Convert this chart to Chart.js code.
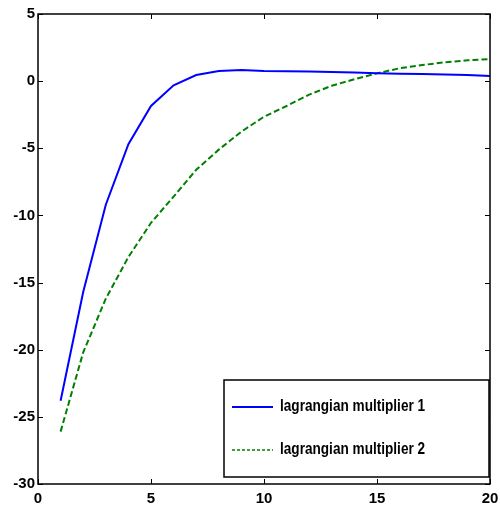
<!DOCTYPE html>
<html>
<head>
<meta charset="utf-8">
<script src="https://cdn.jsdelivr.net/npm/chart.js@4/dist/chart.umd.min.js"></script>
<style>
  html, body { margin: 0; padding: 0; background: #fff; }
  #wrap { width: 500px; height: 513px; }
</style>
</head>
<body>
<div id="wrap"><canvas id="c" width="500" height="513"></canvas></div>
<script>
// ---- data ----
const iterations = [1,2,3,4,5,6,7,8,9,10,11,12,13,14,15,16,17,18,19,20];
const multiplier1 = [-23.8,-15.7,-9.2,-4.7,-1.85,-0.31,0.46,0.76,0.83,0.76,0.74,0.71,0.68,0.64,0.58,0.55,0.53,0.49,0.46,0.38];
const multiplier2 = [-26.1,-20.2,-16.2,-13.1,-10.55,-8.6,-6.6,-5.1,-3.76,-2.65,-1.85,-1.0,-0.34,0.14,0.58,0.96,1.2,1.4,1.55,1.65];
const seriesLabels = ["lagrangian multiplier 1", "lagrangian multiplier 2"];
const xTicks = [0,5,10,15,20];
const yTicks = [-30,-25,-20,-15,-10,-5,0,5];

const FONT_FAMILY = '"Liberation Sans", Arial, sans-serif';

function toXY(xs, ys) { return xs.map((x, i) => ({ x: x, y: ys[i] })); }

const frameAndLegend = {
  id: 'frameAndLegend',
  afterDraw(chart) {
    const ctx = chart.ctx;
    const a = chart.chartArea;
    const xs = chart.scales.x, ys = chart.scales.y;
    ctx.save();
    // inward ticks on all four sides
    ctx.strokeStyle = '#000';
    ctx.lineWidth = 1;
    const tl = 5;
    xTicks.forEach(v => {
      const px = Math.round(xs.getPixelForValue(v)) + 0.5;
      ctx.beginPath();
      ctx.moveTo(px, a.bottom); ctx.lineTo(px, a.bottom - tl);
      ctx.moveTo(px, a.top); ctx.lineTo(px, a.top + tl);
      ctx.stroke();
    });
    yTicks.forEach(v => {
      const py = Math.round(ys.getPixelForValue(v)) + 0.5;
      ctx.beginPath();
      ctx.moveTo(a.left, py); ctx.lineTo(a.left + tl, py);
      ctx.moveTo(a.right, py); ctx.lineTo(a.right - tl, py);
      ctx.stroke();
    });
    // frame
    ctx.lineWidth = 1.5;
    ctx.strokeRect(a.left, a.top, a.right - a.left, a.bottom - a.top);

    // legend box
    const bw = 265, bh = 97;
    const bx = a.right - bw - 1, by = a.bottom - bh - 7;
    ctx.fillStyle = '#fff';
    ctx.fillRect(bx, by, bw, bh);
    ctx.lineWidth = 1.5;
    ctx.strokeStyle = '#000';
    ctx.strokeRect(bx, by, bw, bh);
    const rows = [by + 27, by + 70];
    chart.data.datasets.forEach((ds, i) => {
      const y = rows[i];
      ctx.beginPath();
      ctx.strokeStyle = ds.borderColor;
      ctx.lineWidth = ds.borderDash ? 1.5 : 2;
      ctx.setLineDash(ds.borderDash ? [3, 2] : []);
      ctx.moveTo(bx + 8, y); ctx.lineTo(bx + 49, y);
      ctx.stroke();
      ctx.setLineDash([]);
      ctx.save();
      ctx.translate(bx + 56, y);
      ctx.scale(0.85, 1);
      ctx.fillStyle = '#000';
      ctx.font = 'bold 16px ' + FONT_FAMILY;
      ctx.textBaseline = 'middle';
      ctx.textAlign = 'left';
      ctx.fillText(ds.label, 0, 0);
      ctx.restore();
    });
    ctx.restore();
  }
};

new Chart(document.getElementById('c'), {
  type: 'line',
  data: {
    datasets: [
      {
        label: seriesLabels[0],
        data: toXY(iterations, multiplier1),
        borderColor: '#0000ff',
        borderWidth: 2,
        pointRadius: 0,
        fill: false,
        tension: 0
      },
      {
        label: seriesLabels[1],
        data: toXY(iterations, multiplier2),
        borderColor: '#008000',
        borderWidth: 2,
        borderDash: [6, 3],
        pointRadius: 0,
        fill: false,
        tension: 0
      }
    ]
  },
  options: {
    responsive: false,
    animation: false,
    devicePixelRatio: 1,
    layout: { padding: { top: 14, right: 10, left: 0, bottom: 0 } },
    plugins: { legend: { display: false }, tooltip: { enabled: false }, title: { display: false } },
    scales: {
      x: {
        type: 'linear',
        min: 0, max: 20,
        afterBuildTicks(s) { s.ticks = xTicks.map(v => ({ value: v })); },
        afterFit(s) { s.height = 29; s.paddingLeft = 0; s.paddingRight = 0; },
        grid: { drawOnChartArea: false, drawTicks: false, display: false },
        border: { display: false },
        ticks: { color: '#000', padding: 6, maxRotation: 0, font: { family: FONT_FAMILY, size: 15, weight: 'bold' } }
      },
      y: {
        type: 'linear',
        min: -30, max: 5,
        afterBuildTicks(s) { s.ticks = yTicks.map(v => ({ value: v })); },
        afterFit(s) { s.width = 38; s.paddingTop = 0; s.paddingBottom = 0; },
        grid: { drawOnChartArea: false, drawTicks: false, display: false },
        border: { display: false },
        ticks: { color: '#000', padding: 3, font: { family: FONT_FAMILY, size: 15, weight: 'bold' } }
      }
    }
  },
  plugins: [frameAndLegend]
});
</script>
</body>
</html>
